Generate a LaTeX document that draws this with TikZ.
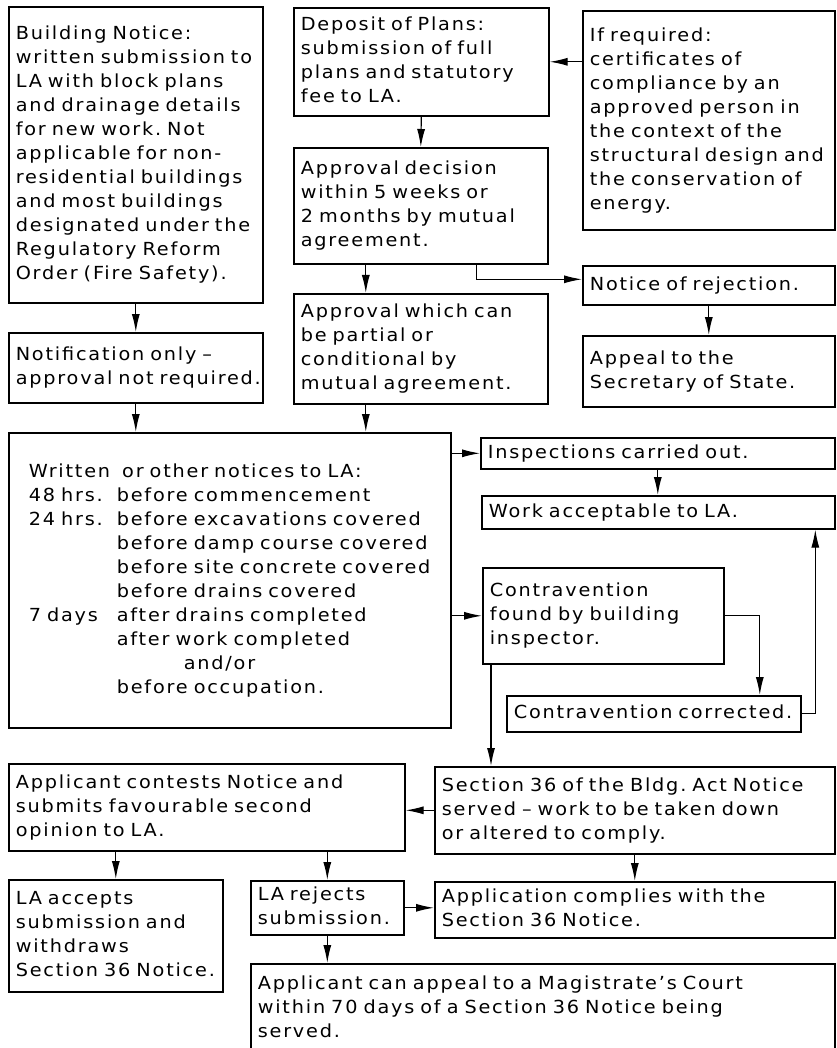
\documentclass[tikz,border=0pt]{standalone}
\usepackage{fontspec}
\setmainfont[LetterSpace=10,FakeStretch=1.07]{DejaVu Sans}
\usetikzlibrary{arrows.meta}
\frenchspacing
\newcommand{\pfx}[1]{\makebox[88pt][l]{#1}}
\newcommand{\lines}[1]{\begin{tabular}{@{}l@{}}#1\end{tabular}}
\begin{document}
\begin{tikzpicture}[x=1pt,y=-1pt,
    font=\fontsize{18}{24}\selectfont,
    >={Latex[length=18pt,width=8pt]},
    box/.style={draw,line width=1.6pt,rectangle,anchor=north west,
        align=left,inner xsep=7pt,inner ysep=0pt},
    link/.style={->,line width=1.2pt}]
    \useasboundingbox (0,0) rectangle (836,1048);

    % Top row: the two routes and the certificates.
    \node[box,minimum width=254pt,text width=240pt,minimum height=296pt]
        (bn) at (8,6)
        {\lines{Building Notice:\\written submission to\\LA with block plans\\
        and drainage details\\for new work. Not\\applicable for non-\\
        residential buildings\\and most buildings\\designated under the\\
        Regulatory Reform\\Order (Fire Safety).}};
    \node[box,minimum width=255pt,text width=241pt,minimum height=108pt]
        (dop) at (293,7)
        {\lines{Deposit of Plans:\\submission of full\\plans and statutory\\
        fee to LA.}};
    \node[box,minimum width=252pt,text width=238pt,minimum height=219pt]
        (cert) at (582,10)
        {\lines{If required:\\certificates of\\compliance by an\\
        approved person in\\the context of the\\structural design and\\
        the conservation of\\energy.}};
    \node[box,minimum width=254pt,text width=240pt,minimum height=116pt]
        (dec) at (293,147)
        {\lines{Approval decision\\within 5 weeks or\\2 months by mutual\\
        agreement.}};
    \node[box,minimum width=252pt,text width=238pt,minimum height=39pt]
        (rej) at (582,265) {\lines{Notice of rejection.}};
    \node[box,minimum width=252pt,text width=238pt,minimum height=71pt]
        (sos) at (582,335) {\lines{Appeal to the\\Secretary of State.}};
    \node[box,minimum width=254pt,text width=240pt,minimum height=70pt]
        (notif) at (8,332)
        {\lines{Notification only --\\approval not required.}};
    \node[box,minimum width=254pt,text width=240pt,minimum height=110pt]
        (appr) at (293,293)
        {\lines{Approval which can\\be partial or\\conditional by\\
        mutual agreement.}};

    % Middle: notices and inspections.
    \node[box,minimum width=442pt,text width=402pt,minimum height=295pt,
        inner xsep=20pt] (notices) at (8,432)
        {\lines{Written\ \ or other notices to LA:\\
        \pfx{48 hrs.}before commencement\\
        \pfx{24 hrs.}before excavations covered\\
        \pfx{}before damp course covered\\
        \pfx{}before site concrete covered\\
        \pfx{}before drains covered\\
        \pfx{7 days}after drains completed\\
        \pfx{}after work completed\\
        \hspace*{155pt}and/or\\
        \pfx{}before occupation.}};
    \node[box,minimum width=354pt,text width=340pt,minimum height=31pt]
        (insp) at (480,437) {\lines{Inspections carried out.}};
    \node[box,minimum width=353pt,text width=339pt,minimum height=33pt]
        (ok) at (481,495) {\lines{Work acceptable to LA.}};
    \node[box,minimum width=241pt,text width=227pt,minimum height=96pt]
        (found) at (482,567)
        {\lines{Contravention\\found by building\\inspector.}};
    \node[box,minimum width=294pt,text width=280pt,minimum height=36pt]
        (fixed) at (506,695) {\lines{Contravention corrected.}};

    % Bottom: Section 36 notice and what follows.
    \node[box,minimum width=400pt,text width=386pt,minimum height=87pt]
        (s36) at (434,766)
        {\lines{Section 36 of the Bldg. Act Notice\\
        served -- work to be taken down\\or altered to comply.}};
    \node[box,minimum width=396pt,text width=382pt,minimum height=87pt]
        (contest) at (8,763)
        {\lines{Applicant contests Notice and\\submits favourable second\\
        opinion to LA.}};
    \node[box,minimum width=214pt,text width=200pt,minimum height=112pt]
        (accept) at (8,879)
        {\lines{LA accepts\\submission and\\withdraws\\Section 36 Notice.}};
    \node[box,minimum width=153pt,text width=139pt,minimum height=54pt]
        (reject) at (250,880) {\lines{LA rejects\\submission.}};
    \node[box,minimum width=400pt,text width=386pt,minimum height=56pt]
        (comply) at (434,881)
        {\lines{Application complies with the\\Section 36 Notice.}};
    \node[box,minimum width=584pt,text width=570pt,minimum height=90pt]
        (court) at (250,963)
        {\lines{Applicant can appeal to a Magistrate’s Court\\
        within 70 days of a Section 36 Notice being\\served.}};

    % Connectors.
    \draw[link] (bn.south) -- (notif.north);
    \draw[link] (dop.south) -- (dec.north);
    \draw[link] (cert.west |- dop.east) -- (dop.east);
    \draw[link] ([xshift=-55pt]dec.south) -- ([xshift=-55pt]appr.north);
    \draw[link] ([xshift=56pt]dec.south) |- ([yshift=6pt]rej.west);
    \draw[link] (rej.south) -- (sos.north);
    \draw[link] (notif.south) -- (notif.south |- notices.north);
    \draw[link] ([xshift=-55pt]appr.south)
        -- ([xshift=-55pt]appr.south |- notices.north);
    \draw[link] (notices.east |- insp.west) -- (insp.west);
    \draw[link] (notices.east |- found.west) -- (found.west);
    \draw[link] (insp.south) -- (insp.south |- ok.north);
    \draw[link] (found.east) -| ([xshift=106pt]fixed.north);
    \draw[link] (fixed.east) -| ([xshift=157pt]ok.south);
    \draw[link] ([xshift=9pt]found.south west)
        -- ([xshift=9pt]found.south west |- s36.north);
    \draw[link] (s36.west) -- (s36.west -| contest.east);
    \draw[link] (accept.north |- contest.south) -- (accept.north);
    \draw[link] (reject.north |- contest.south) -- (reject.north);
    \draw[link] (reject.east) -- (reject.east -| comply.west);
    \draw[link] (s36.south) -- (comply.north);
    \draw[link] (reject.south) -- (reject.south |- court.north);
\end{tikzpicture}
\end{document}
